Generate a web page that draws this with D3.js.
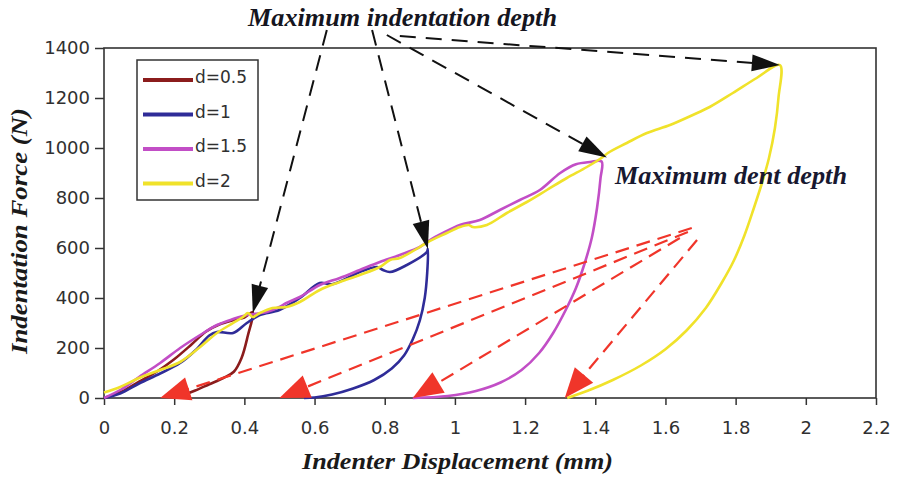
<!DOCTYPE html>
<html><head><meta charset="utf-8">
<script src="https://cdn.jsdelivr.net/npm/d3@7/dist/d3.min.js"></script>
<style>body{margin:0;background:#fff}</style>
</head><body>
<svg id="chart" width="898" height="477"></svg>
<script>
// ---------- data ----------
const xTicks = [0, 0.2, 0.4, 0.6, 0.8, 1, 1.2, 1.4, 1.6, 1.8, 2, 2.2];
const yTicks = [0, 200, 400, 600, 800, 1000, 1200, 1400];
const seriesNames = ["d=0.5", "d=1", "d=1.5", "d=2"];
const seriesColors = ["#8b1c1c", "#2f2c98", "#c24ec6", "#f0e22a"];

// [displacement mm, force N]
const d05 = [[0,0],[0.05,25],[0.1,65],[0.15,105],[0.2,155],[0.25,215],[0.29,265],[0.33,295],[0.37,312],[0.40,322],[0.424,344],
  [0.41,250],[0.392,160],[0.37,105],[0.34,80],[0.30,55],[0.26,30],[0.226,12],[0.2,0]];
const d1 = [[0,0],[0.046,18],[0.10,58],[0.16,98],[0.217,140],[0.26,190],[0.30,250],[0.322,264],[0.368,260],[0.407,300],[0.444,332],
  [0.50,352],[0.558,400],[0.615,460],[0.65,455],[0.729,504],[0.778,524],[0.795,512],[0.815,504],[0.863,532],[0.92,584],[0.923,596],
  [0.921,500],[0.914,400],[0.9,310],[0.88,235],[0.855,170],[0.82,118],[0.77,72],[0.71,38],[0.65,14],[0.6,2],[0.57,0]];
const d15 = [[0,0],[0.05,35],[0.10,84],[0.16,140],[0.217,200],[0.274,252],[0.322,292],[0.368,316],[0.407,332],[0.464,344],[0.50,364],
  [0.52,380],[0.558,404],[0.615,452],[0.672,480],[0.729,512],[0.786,544],[0.843,572],[0.90,604],[0.929,632],[0.966,660],[1.014,692],
  [1.071,712],[1.128,752],[1.185,792],[1.242,832],[1.30,900],[1.345,935],[1.385,944],[1.418,946],
  [1.415,880],[1.405,760],[1.39,640],[1.37,540],[1.345,440],[1.315,350],[1.28,260],[1.24,180],[1.19,112],[1.13,62],[1.06,28],[0.98,8],[0.88,0]];
const d2 = [[0,22],[0.046,44],[0.10,80],[0.16,112],[0.217,144],[0.274,204],[0.322,260],[0.368,300],[0.396,324],[0.41,340],[0.424,324],
  [0.444,340],[0.48,360],[0.52,364],[0.558,384],[0.615,432],[0.672,464],[0.729,492],[0.786,524],[0.815,552],[0.843,560],[0.90,604],
  [0.923,624],[0.977,660],[1.014,684],[1.04,692],[1.051,684],[1.091,692],[1.148,740],[1.205,784],[1.262,832],[1.319,880],[1.376,924],
  [1.422,964],[1.436,980],[1.49,1020],[1.547,1060],[1.613,1092],[1.678,1132],[1.726,1164],[1.792,1220],[1.86,1280],[1.926,1332],
  [1.922,1200],[1.912,1080],[1.895,960],[1.875,860],[1.852,760],[1.825,650],[1.795,550],[1.76,460],[1.715,360],[1.66,270],
  [1.6,195],[1.53,130],[1.45,72],[1.38,30],[1.32,0]];
const seriesData = [d05, d1, d15, d2];

// annotation arrows: [x1, F1, x2, F2] in data units
const blackArrows = [[0.635,1472,0.424,340],[0.764,1472,0.923,596],[0.806,1452,1.433,962],[0.843,1448,1.926,1332]];
const redArrows = [[1.675,680,0.16,0],[1.664,664,0.50,0],[1.641,640,0.88,0],[1.69,632,1.313,0]];
const topLabel = "Maximum indentation depth";
const dentLabel = "Maximum dent depth";
const xTitle = "Indenter Displacement (mm)";
const yTitle = "Indentation Force (N)";

// ---------- drawing ----------
const svg = d3.select("#chart");
const x = d3.scaleLinear().domain([0, 2.2]).range([104, 876]);
const y = d3.scaleLinear().domain([0, 1400]).range([398, 48]);
const tickFont = "'DejaVu Sans', sans-serif";
const serif = "'Liberation Serif', 'Times New Roman', serif";

// axes
const gx = svg.append("g").attr("transform", "translate(0,398)")
  .call(d3.axisBottom(x).tickValues(xTicks).tickFormat(d => String(d)).tickSize(7).tickPadding(16).tickSizeOuter(0));
const gy = svg.append("g").attr("transform", "translate(104,0)")
  .call(d3.axisLeft(y).tickValues(yTicks).tickFormat(d => String(d)).tickSize(9).tickPadding(5).tickSizeOuter(0));
[gx, gy].forEach(g => {
  g.selectAll("text").attr("font-family", tickFont).attr("font-size", 18).attr("fill", "#303030");
  g.selectAll("line").attr("stroke", "#333").attr("stroke-width", 1.5);
  g.select(".domain").remove();
});
// frame
svg.append("rect").attr("x", x(0)).attr("y", y(1400)).attr("width", x(2.2) - x(0)).attr("height", y(0) - y(1400))
  .attr("fill", "none").attr("stroke", "#333").attr("stroke-width", 1.6);

// curves
const line = d3.line().x(d => x(d[0])).y(d => y(d[1])).curve(d3.curveCatmullRom.alpha(0.5));
seriesData.forEach((s, i) => {
  svg.append("path").datum(s).attr("d", line).attr("fill", "none")
    .attr("stroke", seriesColors[i]).attr("stroke-width", 2.6).attr("stroke-linejoin", "round");
});

// arrows
function arrow(a, color, dash, headLen, headW, width) {
  const x1 = x(a[0]), y1 = y(a[1]), x2 = x(a[2]), y2 = y(a[3]);
  const L = Math.hypot(x2 - x1, y2 - y1), ux = (x2 - x1) / L, uy = (y2 - y1) / L;
  const bx = x2 - ux * headLen, by = y2 - uy * headLen;
  svg.append("line").attr("x1", x1).attr("y1", y1).attr("x2", bx + ux * 3).attr("y2", by + uy * 3)
    .attr("stroke", color).attr("stroke-width", width).attr("stroke-dasharray", dash);
  svg.append("path").attr("d", `M${x2},${y2}L${bx - uy * headW / 2},${by + ux * headW / 2}L${bx + uy * headW / 2},${by - ux * headW / 2}Z`)
    .attr("fill", color);
}
redArrows.forEach(a => arrow(a, "#f0352a", "14,8", 30, 24, 2.2));
blackArrows.forEach(a => arrow(a, "#111", "16,10", 28, 17, 2));

// annotation labels
svg.append("text").text(topLabel).attr("x", 248).attr("y", 26).attr("textLength", 309).attr("lengthAdjust", "spacingAndGlyphs")
  .attr("font-family", serif).attr("font-weight", "bold").attr("font-style", "italic").attr("font-size", 25).attr("fill", "#151520");
svg.append("text").text(dentLabel).attr("x", 615).attr("y", 184).attr("textLength", 232).attr("lengthAdjust", "spacingAndGlyphs")
  .attr("font-family", serif).attr("font-weight", "bold").attr("font-style", "italic").attr("font-size", 25).attr("fill", "#181830");

// axis titles
svg.append("text").text(xTitle).attr("x", 302).attr("y", 469).attr("textLength", 311).attr("lengthAdjust", "spacingAndGlyphs")
  .attr("font-family", serif).attr("font-weight", "bold").attr("font-style", "italic").attr("font-size", 23).attr("fill", "#1a1a1a");
svg.append("text").text(yTitle).attr("transform", "translate(27,354) rotate(-90)").attr("textLength", 246).attr("lengthAdjust", "spacingAndGlyphs")
  .attr("font-family", serif).attr("font-weight", "bold").attr("font-style", "italic").attr("font-size", 23).attr("fill", "#1a1a1a");

// legend
const lg = svg.append("g");
lg.append("rect").attr("x", 137).attr("y", 60).attr("width", 121).attr("height", 140)
  .attr("fill", "#fff").attr("stroke", "#333").attr("stroke-width", 1.5);
seriesNames.forEach((n, i) => {
  const yy = 80 + i * 34.5;
  lg.append("line").attr("x1", 143).attr("x2", 193).attr("y1", yy).attr("y2", yy)
    .attr("stroke", seriesColors[i]).attr("stroke-width", 4);
  lg.append("text").text(n).attr("x", 195).attr("y", yy + 3).attr("font-family", tickFont).attr("font-size", 17).attr("fill", "#303030");
});
</script>
</body></html>
